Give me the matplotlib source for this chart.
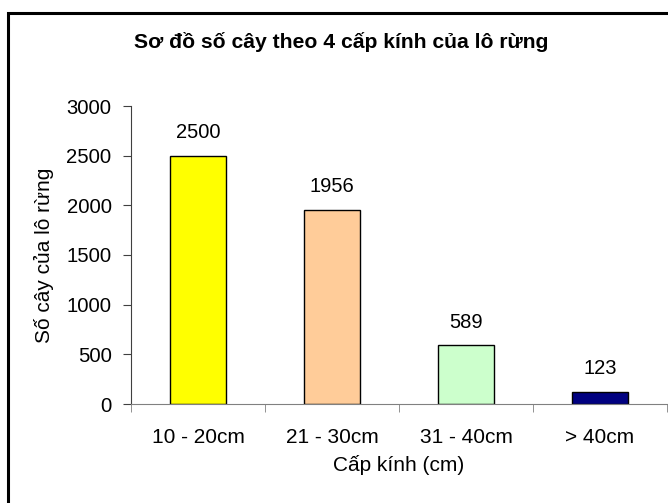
import numpy as np
import matplotlib
matplotlib.use("Agg")
import matplotlib.pyplot as plt
from matplotlib.patches import Rectangle

categories = ["10 - 20cm", "21 - 30cm", "31 - 40cm", "> 40cm"]
values = [2500, 1956, 589, 123]
colors = ["#FFFF00", "#FFCC99", "#CCFFCC", "#000080"]
y_ticks = [0, 500, 1000, 1500, 2000, 2500, 3000]

plt.rcParams["font.family"] = ["Liberation Sans", "DejaVu Sans"]

fig = plt.figure(figsize=(6.68, 5.03), dpi=100)

# outer chart frame (only left/top visible in the reference)
fig.patches.append(Rectangle((7.5 / 668, -0.05), 1.2, 1 - 13.5 / 503 + 0.05,
                             transform=fig.transFigure, fill=False,
                             edgecolor="black", linewidth=2.2))

ax = fig.add_axes([131 / 668, 1 - 404 / 503, (667 - 131) / 668, (404 - 106) / 503])

x = np.arange(len(categories))
bars = ax.bar(x, values, width=0.42, color=colors, edgecolor="black", linewidth=1.0)

for xi, v in zip(x, values):
    ax.annotate(str(v), (xi, v), xytext=(0, 10), textcoords="offset points",
                ha="center", va="bottom", fontsize=14.5)

ax.set_xlim(-0.5, len(categories) - 0.5)
ax.set_ylim(0, 3000)
ax.set_yticks(y_ticks)
ax.set_yticklabels([str(t) for t in y_ticks], fontsize=14.6)

ax.set_xticks(x)
ax.set_xticklabels(categories, fontsize=15)
ax.tick_params(axis="x", which="major", length=0, pad=17)
ax.set_xticks(np.arange(len(categories) + 1) - 0.5, minor=True)
ax.tick_params(axis="x", which="minor", length=6, color="#808080", direction="out")
ax.tick_params(axis="y", length=6, direction="out", color="#404040", pad=8)

for side in ["top", "right"]:
    ax.spines[side].set_visible(False)
ax.spines["left"].set_color("#404040")
ax.spines["bottom"].set_color("#808080")

ax.set_xlabel("Cấp kính (cm)", fontsize=15, labelpad=6)
ax.set_ylabel("Số cây của lô rừng", fontsize=15, labelpad=9)

fig.text(341 / 668, 1 - 48 / 503, "Sơ đồ số cây theo 4 cấp kính của lô rừng",
         ha="center", va="baseline", fontsize=15.2, fontweight="bold")

fig.savefig("out.png", dpi=100)
